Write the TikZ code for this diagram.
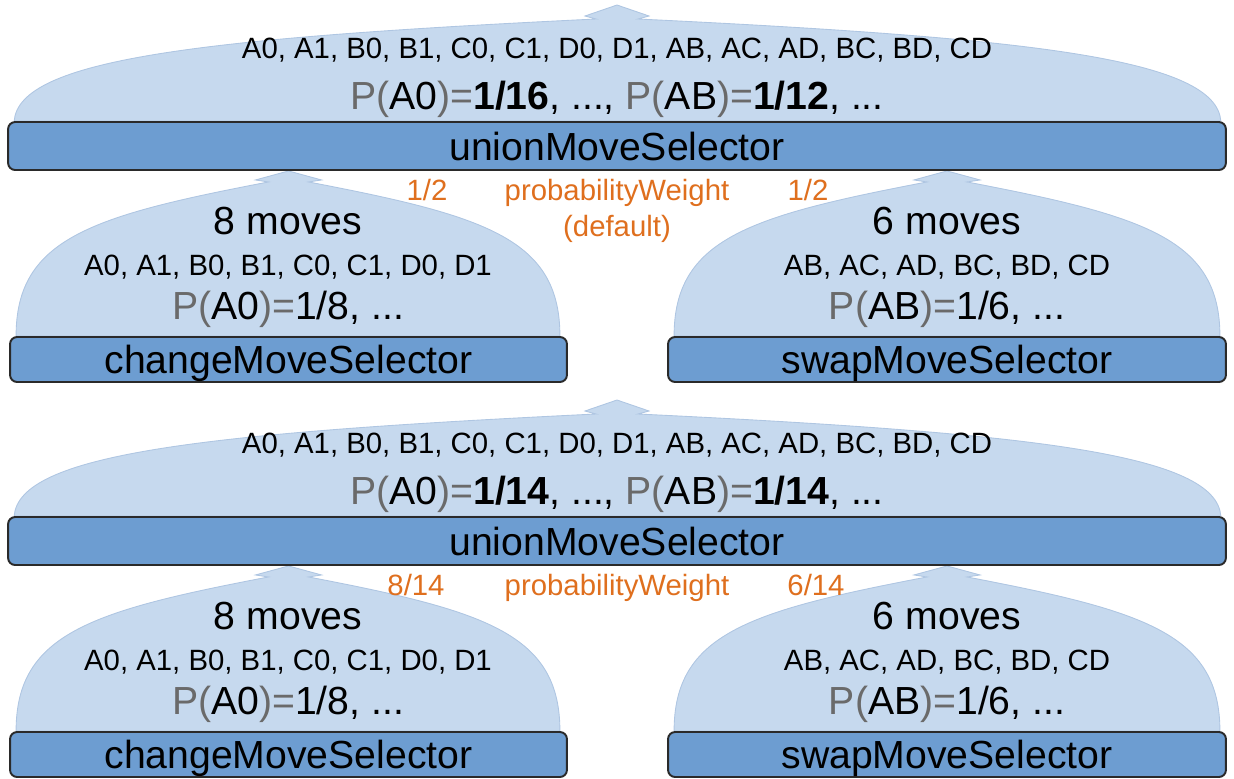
\documentclass[tikz,border=0pt]{standalone}
\usepackage{fontspec}
\setmainfont{Liberation Sans}
\usetikzlibrary{calc,backgrounds}
\definecolor{barblue}{HTML}{6D9DD1}
\definecolor{barline}{HTML}{2A2A2A}
\definecolor{fanblue}{HTML}{C6D9EE}
\definecolor{fanline}{HTML}{AFC6E2}
\definecolor{wtorange}{HTML}{DF6F1E}
\definecolor{pgrey}{HTML}{6A6A6A}
\newcommand\bigtxt{\fontsize{22.3}{26}\selectfont}
\newcommand\midtxt{\fontsize{16.7}{20}\selectfont}
\newcommand\pg[1]{\textcolor{pgrey}{#1}}
% wide fan over a union bar: base left, tip, base right
\newcommand\widefan[3]{\path[fan] (#1) .. controls +(5,-62) and +(-396,19) .. ($(#2)+(-21,14)$)
  -- ($(#2)+(-32,11)$) -- (#2) -- ($(#2)+(32,11)$) -- ($(#2)+(21,14)$)
  .. controls +(396,19) and +(-5,-62) .. (#3) -- cycle;}
% dome fan over a child bar
\newcommand\domefan[3]{\path[fan] (#1) .. controls +(0,-97) and +(-178,34) .. ($(#2)+(-20,11)$)
  -- ($(#2)+(-33,9)$) -- (#2) -- ($(#2)+(33,9)$) -- ($(#2)+(20,11)$)
  .. controls +(178,34) and +(0,-97) .. (#3) -- cycle;}

\begin{document}
\begin{tikzpicture}[x=0.02cm,y=-0.02cm,
  bar/.style={draw=barline,line width=1.1pt,fill=barblue,rounded corners=4pt,
    inner sep=0pt,text depth=0pt,font=\bigtxt},
  fan/.style={fill=fanblue,draw=fanline,line width=0.5pt},
  big/.style={font=\bigtxt,inner sep=0pt,text depth=0pt},
  mid/.style={font=\midtxt,inner sep=0pt,text depth=0pt},
  weight/.style={font=\midtxt,text=wtorange,inner sep=0pt,text depth=0pt}]
\useasboundingbox (0,0) rectangle (1234,778);

% default weights
\node[bar,minimum width=24.36cm,minimum height=0.96cm] (unionA) at (617,146) {unionMoveSelector};
\node[bar,minimum width=11.14cm,minimum height=0.9cm] (changeA) at (288.5,359.5) {changeMoveSelector};
\node[bar,minimum width=11.16cm,minimum height=0.9cm] (swapA) at (947,359.5) {swapMoveSelector};
\coordinate (tipA) at (617,5);
\coordinate (tipA1) at (changeA.north |- unionA.south);
\coordinate (tipA2) at (swapA.north |- unionA.south);
\begin{pgfonlayer}{background}
\widefan{$(unionA.north west)+(7,0)$}{tipA}{$(unionA.north east)+(-6,0)$}
\domefan{$(changeA.north west)+(7,0)$}{tipA1}{$(changeA.north east)+(-8,0)$}
\domefan{$(swapA.north west)+(7,0)$}{tipA2}{$(swapA.north east)+(-7,0)$}
\end{pgfonlayer}
\node[mid] (listA) at (617,48) {A0, A1, B0, B1, C0, C1, D0, D1, AB, AC, AD, BC, BD, CD};
\node[big] (probA) at (617,95) {\pg{P(}A0\pg{)=}\textbf{1/16}, ..., \pg{P(}AB\pg{)=}\textbf{1/12}, ...};
\node[big] (movesA1) at (288,221) {8 moves};
\node[mid] (listA1) at (288,265) {A0, A1, B0, B1, C0, C1, D0, D1};
\node[big] (probA1) at (288,305) {\pg{P(}A0\pg{)=}1/8, ...};
\node[big] (movesA2) at (947,221) {6 moves};
\node[mid] (listA2) at (947,265) {AB, AC, AD, BC, BD, CD};
\node[big] (probA2) at (947,305) {\pg{P(}AB\pg{)=}1/6, ...};
\node[weight] (wA1) at (427,190) {1/2};
\node[weight] (pwA) at (617,190) {probabilityWeight};
\node[weight] (defA) at (617,226) {(default)};
\node[weight] (wA2) at (808,190) {1/2};

% explicit weights
\node[bar,minimum width=24.36cm,minimum height=0.96cm] (unionB) at (617,541) {unionMoveSelector};
\node[bar,minimum width=11.14cm,minimum height=0.9cm] (changeB) at (288.5,754.5) {changeMoveSelector};
\node[bar,minimum width=11.16cm,minimum height=0.9cm] (swapB) at (947,754.5) {swapMoveSelector};
\coordinate (tipB) at (617,400);
\coordinate (tipB1) at (changeB.north |- unionB.south);
\coordinate (tipB2) at (swapB.north |- unionB.south);
\begin{pgfonlayer}{background}
\widefan{$(unionB.north west)+(7,0)$}{tipB}{$(unionB.north east)+(-6,0)$}
\domefan{$(changeB.north west)+(7,0)$}{tipB1}{$(changeB.north east)+(-8,0)$}
\domefan{$(swapB.north west)+(7,0)$}{tipB2}{$(swapB.north east)+(-7,0)$}
\end{pgfonlayer}
\node[mid] (listB) at (617,443) {A0, A1, B0, B1, C0, C1, D0, D1, AB, AC, AD, BC, BD, CD};
\node[big] (probB) at (617,490) {\pg{P(}A0\pg{)=}\textbf{1/14}, ..., \pg{P(}AB\pg{)=}\textbf{1/14}, ...};
\node[big] (movesB1) at (288,616) {8 moves};
\node[mid] (listB1) at (288,660) {A0, A1, B0, B1, C0, C1, D0, D1};
\node[big] (probB1) at (288,700) {\pg{P(}A0\pg{)=}1/8, ...};
\node[big] (movesB2) at (947,616) {6 moves};
\node[mid] (listB2) at (947,660) {AB, AC, AD, BC, BD, CD};
\node[big] (probB2) at (947,700) {\pg{P(}AB\pg{)=}1/6, ...};
\node[weight] (wB1) at (416,585) {8/14};
\node[weight] (pwB) at (617,585) {probabilityWeight};
\node[weight] (wB2) at (816,585) {6/14};
\end{tikzpicture}
\end{document}
